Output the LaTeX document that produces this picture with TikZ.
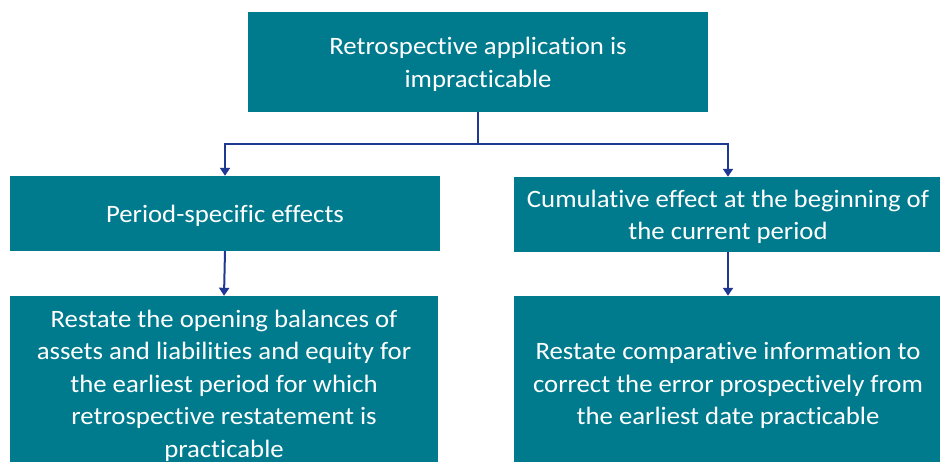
\documentclass[tikz,border=0pt]{standalone}
\usepackage{fontspec}
\setmainfont[FakeStretch=1.07,Ligatures=NoCommon]{Carlito}
\usetikzlibrary{arrows.meta}
\definecolor{boxteal}{RGB}{0,123,142}
\definecolor{connblue}{RGB}{31,56,146}
\begin{document}
\begin{tikzpicture}[x=1pt,y=-1pt,
  box/.style={fill=boxteal,draw=none,inner sep=0pt},
  txt/.style={text=white,align=center,inner sep=0pt,
    font=\fontsize{25}{32.5}\selectfont},
  conn/.style={draw=connblue,line width=2pt},
  arr/.style={conn,-{Triangle[width=10pt,length=8pt]}}]
\useasboundingbox (0,0) rectangle (940,461);
\clip (0,0) rectangle (940,461);
\node[box,minimum width=460pt,minimum height=100pt] (top) at (478,62) {};
\node[box,minimum width=430pt,minimum height=75pt] (lm) at (225,213.5) {};
\node[box,minimum width=428pt,minimum height=75pt] (rm) at (728,214.5) {};
\node[box,minimum width=428pt,minimum height=176pt] (lb) at (224,384) {};
\node[box,minimum width=428pt,minimum height=176pt] (rb) at (728,384) {};
\node[txt] (toptxt) at ([yshift=-2.5pt]top.center)
  {Retrospective application is\\impracticable};
\node[txt] (lmtxt) at ([yshift=-2.5pt]lm.center) {Period-specific effects};
\node[txt] (rmtxt) at ([yshift=-2.5pt]rm.center)
  {Cumulative effect at the beginning of\\the current period};
\node[txt] (lbtxt) at ([yshift=-1.5pt]lb.center)
  {Restate the opening balances of\\assets and liabilities and equity for\\the earliest period for which\\retrospective restatement is\\practicable};
\node[txt] (rbtxt) at ([yshift=-1.5pt]rb.center)
  {Restate comparative information to\\correct the error prospectively from\\the earliest date practicable};
\coordinate (j) at (478,144);
\draw[conn] (top.south) -- (j);
\draw[arr] (j) -| (lm.north);
\draw[arr] (j) -| (rm.north);
\draw[arr] (lm.south) -- (lb.north);
\draw[arr] (rm.south) -- (rb.north);
\end{tikzpicture}
\end{document}
